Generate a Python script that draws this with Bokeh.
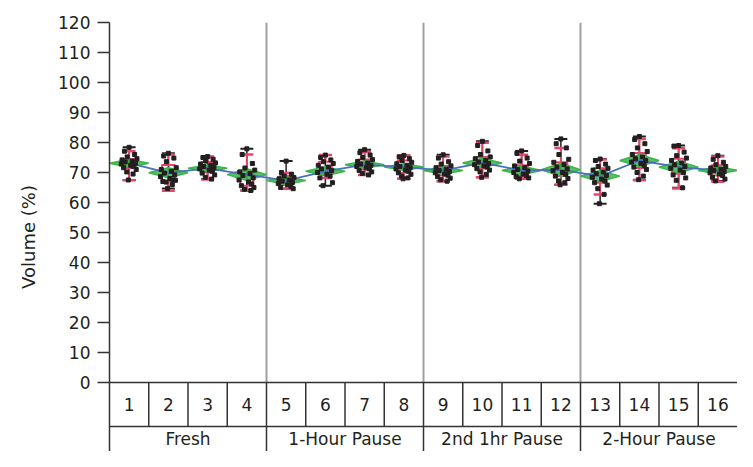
from bokeh.plotting import figure
from bokeh.models import Range1d, FixedTicker
from bokeh.core.properties import value
from bokeh.embed import file_html
from bokeh.resources import INLINE
import numpy as np

# ---------------- data ----------------
samples = [str(i) for i in range(1, 17)]
groups = ["Fresh", "1-Hour Pause", "2nd 1hr Pause", "2-Hour Pause"]

pts01 = [78.4, 77.1, 76.0, 75.2, 74.6, 74.2, 73.8, 73.5, 73.1, 72.8, 72.4, 72.0, 71.6, 71.0, 70.2, 69.5, 67.5]
pts02 = [76.4, 75.5, 74.8, 73.6, 71.6, 71.0, 70.4, 69.8, 69.2, 68.6, 68.0, 67.5, 67.0, 67.4, 66.8, 66.0, 64.7]
pts03 = [75.3, 75.0, 74.4, 73.8, 73.2, 72.8, 72.4, 72.0, 71.6, 71.2, 70.8, 70.4, 69.8, 69.2, 68.4, 67.8]
pts04 = [77.9, 76.0, 73.0, 71.5, 70.8, 70.2, 69.6, 69.0, 68.2, 67.5, 66.8, 66.2, 65.6, 65.0, 64.4, 64.0]
pts05 = [73.8, 70.0, 69.4, 68.8, 68.3, 67.9, 67.5, 67.1, 66.7, 66.3, 65.9, 65.4, 65.0, 64.6]
pts06 = [75.8, 75.0, 74.2, 73.6, 73.0, 72.4, 71.8, 71.2, 70.6, 70.0, 69.4, 68.8, 68.2, 66.6, 65.6]
pts07 = [77.6, 76.6, 75.8, 75.0, 74.3, 73.7, 73.2, 72.8, 72.4, 72.0, 71.6, 71.2, 70.7, 70.2, 69.7, 69.2]
pts08 = [75.7, 75.2, 74.6, 74.0, 73.4, 72.9, 72.4, 72.0, 71.6, 71.2, 70.8, 70.4, 69.9, 69.4, 68.8, 68.2, 67.9]
pts09 = [75.9, 74.8, 73.6, 72.8, 72.2, 71.6, 71.1, 70.7, 70.3, 69.9, 69.5, 69.1, 68.6, 68.1, 67.6, 67.1]
pts10 = [80.4, 79.0, 77.2, 76.0, 75.2, 74.6, 74.0, 73.5, 73.0, 72.6, 72.2, 71.8, 71.3, 70.8, 70.2, 69.4, 68.4]
pts11 = [77.2, 76.4, 74.8, 73.8, 73.0, 72.2, 71.6, 71.0, 70.5, 70.0, 69.5, 69.0, 68.6, 68.2, 67.9]
pts12 = [81.2, 79.6, 78.2, 76.0, 74.4, 73.4, 72.6, 71.8, 71.2, 70.6, 70.0, 69.4, 68.8, 68.0, 67.2, 66.6, 65.9]
pts13 = [74.5, 74.0, 72.8, 72.0, 71.4, 70.8, 70.2, 69.6, 69.0, 68.4, 67.8, 67.2, 66.6, 65.8, 64.6, 62.7, 59.6]
pts14 = [82.0, 81.0, 79.6, 78.2, 77.0, 76.0, 75.2, 74.6, 74.0, 73.5, 73.0, 72.4, 71.8, 71.0, 70.0, 68.8, 67.6]
pts15 = [79.0, 78.8, 76.8, 75.6, 74.8, 74.0, 73.2, 72.6, 72.0, 71.4, 70.8, 70.0, 69.2, 68.2, 67.4, 64.9]
pts16 = [75.6, 74.4, 73.4, 72.6, 72.0, 71.5, 71.1, 70.7, 70.3, 69.9, 69.5, 69.0, 68.4, 67.8, 67.2]
points = [pts01, pts02, pts03, pts04, pts05, pts06, pts07, pts08,
          pts09, pts10, pts11, pts12, pts13, pts14, pts15, pts16]

cell_means = [73.1, 69.9, 71.4, 69.3, 67.3, 70.4, 72.6, 71.8,
              70.7, 73.2, 70.7, 70.9, 68.8, 74.0, 71.8, 70.7]
box_q1 = [71.5, 67.0, 70.0, 65.6, 65.8, 69.5, 71.0, 69.9, 69.0, 71.3, 68.8, 68.8, 66.6, 71.5, 69.6, 69.0]
box_q3 = [74.5, 72.5, 73.5, 70.5, 68.8, 73.6, 74.3, 74.0, 72.2, 75.2, 72.4, 73.4, 71.4, 76.5, 74.6, 72.4]
whisk_lo = [67.4, 63.9, 67.7, 63.9, 64.6, 68.2, 69.2, 67.9, 67.1, 68.4, 67.9, 65.9, 62.7, 67.4, 64.7, 66.9]
whisk_hi = [77.1, 76.0, 75.1, 76.0, 69.8, 75.8, 76.8, 75.7, 75.3, 79.9, 75.9, 78.2, 74.3, 81.2, 78.1, 75.3]

# horizontal jitter of points inside a cell (fraction of a cell)
jitter = [0.0, -0.12, 0.14, -0.05, 0.2, -0.18, 0.08, -0.1, 0.16, -0.2, 0.04, 0.12, -0.14, 0.18, -0.06, 0.1, -0.02]

# ---------------- figure ----------------
FONT = "DejaVu Sans"
TXT = "#231f20"
Y_BOTTOM = -23.0
ROW1 = -14.67

p = figure(width=737, height=451, output_backend="svg", toolbar_location=None,
           x_range=Range1d(0.5, 16.5), y_range=Range1d(Y_BOTTOM, 120),
           x_axis_location=None, min_border_left=109, min_border_right=0,
           min_border_top=22, min_border_bottom=0)
p.outline_line_color = None
p.xgrid.visible = False
p.ygrid.visible = False
p.background_fill_color = "white"

ya = p.yaxis[0]
ya.ticker = FixedTicker(ticks=list(range(0, 121, 10)))
ya.minor_tick_line_color = None
ya.major_tick_out = 12
ya.major_tick_in = 0
ya.major_tick_line_width = 1.5
ya.major_tick_line_color = "#333333"
ya.axis_line_width = 1.5
ya.axis_line_color = "#333333"
ya.major_label_text_font = FONT
ya.major_label_text_font_size = "17px"
ya.major_label_text_color = TXT
ya.major_label_standoff = 7
ya.axis_label = "Volume (%)"
ya.axis_label_text_font = FONT
ya.axis_label_text_font_size = "18px"
ya.axis_label_text_font_style = "normal"
ya.axis_label_text_color = TXT
ya.axis_label_standoff = 16

n = len(samples)
xs = np.arange(1, n + 1)

# group separators in the plot area
gsep = [4.5, 8.5, 12.5]
p.segment(x0=gsep, y0=[0] * 3, x1=gsep, y1=[120] * 3, line_color="#a0a0a0", line_width=2)

# range bars (black)
mins = [min(v) for v in points]
maxs = [max(v) for v in points]
cw = 0.33
p.segment(x0=xs, y0=mins, x1=xs, y1=maxs, line_color="#231f20", line_width=1.5)
p.segment(x0=xs - cw / 2, y0=mins, x1=xs + cw / 2, y1=mins, line_color="#231f20", line_width=2)
p.segment(x0=xs - cw / 2, y0=maxs, x1=xs + cw / 2, y1=maxs, line_color="#231f20", line_width=2)

# box plots (red)
RED = "#e6466a"
p.segment(x0=xs, y0=whisk_lo, x1=xs, y1=box_q1, line_color=RED, line_width=2)
p.segment(x0=xs, y0=box_q3, x1=xs, y1=whisk_hi, line_color=RED, line_width=2)
p.segment(x0=xs - cw / 2, y0=whisk_lo, x1=xs + cw / 2, y1=whisk_lo, line_color=RED, line_width=2.5)
p.segment(x0=xs - cw / 2, y0=whisk_hi, x1=xs + cw / 2, y1=whisk_hi, line_color=RED, line_width=2.5)
p.quad(left=xs - cw / 2, right=xs + cw / 2, bottom=box_q1, top=box_q3,
       fill_color=None, line_color=RED, line_width=2)

# mean diamonds (green)
GREEN = "#3bb44a"
dx, dy = [], []
for i, v in enumerate(points):
    m = cell_means[i]
    h = 1.96 * np.std(v, ddof=1) / np.sqrt(len(v))
    x = i + 1
    dx.append([x - 0.5, x, x + 0.5, x])
    dy.append([m, m + h, m, m - h])
p.patches(xs=dx, ys=dy, fill_color=GREEN, fill_alpha=0.85, line_color=GREEN, line_width=1.5)

# connect cell means (blue)
p.line(x=xs, y=cell_means, line_color="#4a70c0", line_width=1.8)

# raw points
px, py = [], []
for i, v in enumerate(points):
    for j, val in enumerate(v):
        px.append(i + 1 + jitter[j % len(jitter)])
        py.append(val)
p.scatter(x=px, y=py, marker="square", size=4, fill_color="#231f20", line_color="#231f20")

# ---------------- category table below ----------------
LINE = "#333333"
p.segment(x0=[0.5, 0.5], y0=[0, ROW1], x1=[16.6, 16.6], y1=[0, ROW1], line_color=LINE, line_width=1.5)
csep = [k + 0.5 for k in range(1, n) if k % 4 != 0]
p.segment(x0=csep, y0=[0] * len(csep), x1=csep, y1=[ROW1] * len(csep), line_color=LINE, line_width=1.5)
p.segment(x0=gsep, y0=[0] * 3, x1=gsep, y1=[Y_BOTTOM] * 3, line_color=LINE, line_width=1.5)

p.text(x=xs, y=[ROW1 / 2] * n, text=samples, text_font=value(FONT), text_font_size="17px",
       text_color=TXT, text_align="center", text_baseline="middle")
gx = [2.5, 6.5, 10.5, 14.5]
p.text(x=gx, y=[(ROW1 + Y_BOTTOM) / 2] * 4, text=groups, text_font=value(FONT),
       text_font_size="17px", text_color=TXT, text_align="center", text_baseline="middle")

open("out.html", "w").write(file_html(p, INLINE))
